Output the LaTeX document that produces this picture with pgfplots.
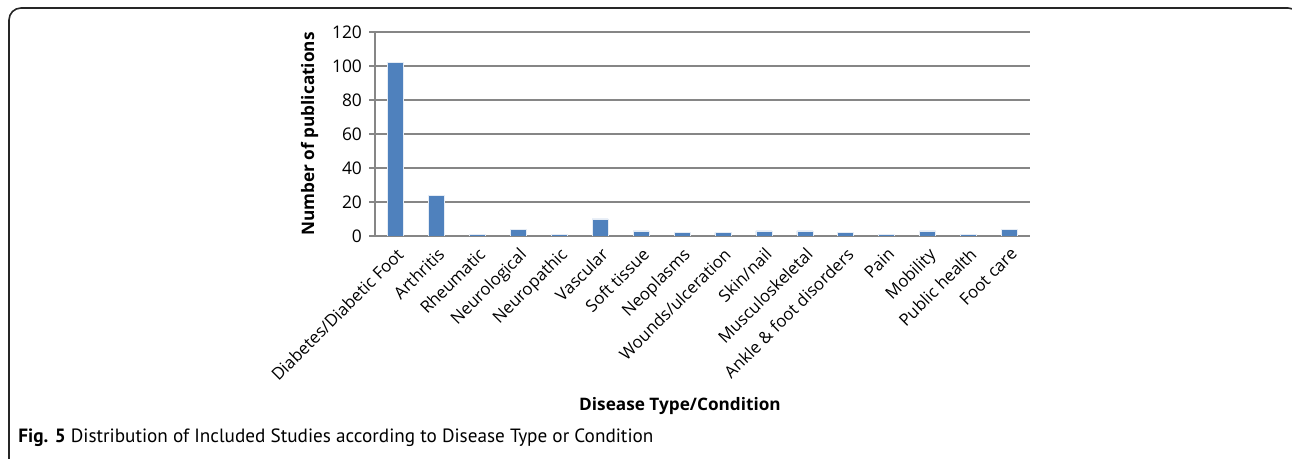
\documentclass[border=0pt]{standalone}
\usepackage{pgfplots}
\pgfplotsset{compat=1.18}
\usepackage{fontspec}
\setmainfont{Open Sans}
\newfontfamily\capfont{PT Sans}
\definecolor{barblue}{HTML}{4F81BD}
\definecolor{gridgray}{HTML}{868686}

\begin{document}
\begin{tikzpicture}
\useasboundingbox (0,0) rectangle (646pt,-229.5pt);
% figure frame (open at the bottom, right edge cut off)
\draw[line width=0.8pt, black!85, rounded corners=6pt]
  (4.5pt,-240pt) -- (4.5pt,-4pt) -- (650pt,-4pt) -- (650pt,-240pt);

\begin{axis}[
  at={(187.5pt,-118pt)}, anchor=south west,
  scale only axis, width=327.5pt, height=102pt,
  ymin=0, ymax=120, ytick={0,20,...,120},
  xmin=-0.5, xmax=15.5,
  ybar, bar width=8pt,
  axis x line*=bottom, axis y line*=left,
  axis line style={gridgray, line width=0.6pt, -},
  ymajorgrids, grid style={gridgray, line width=0.6pt},
  tick align=outside, major tick length=3pt,
  ytick style={gridgray, line width=0.6pt},
  xtick={0,...,15},
  xticklabels={Diabetes/Diabetic Foot, Arthritis, Rheumatic, Neurological,
    Neuropathic, Vascular, Soft tissue, Neoplasms, Wounds/ulceration,
    Skin/nail, Musculoskeletal, Ankle \& foot disorders, Pain, Mobility,
    Public health, Foot care},
  x tick label style={rotate=45, anchor=north east, inner sep=1.5pt,
    font=\fontsize{8.4}{9}\selectfont},
  xtick style={draw=none},
  extra x ticks={-0.5,0.5,...,15.5}, extra x tick labels={},
  extra x tick style={grid=none, tick style={draw=gridgray, line width=0.6pt}},
  y tick label style={font=\fontsize{8.7}{10}\selectfont},
  /pgf/number format/assume math mode=true,
  ylabel={Number of publications},
  ylabel style={font=\bfseries\fontsize{8.6}{9}\selectfont},
]
\addplot[fill=barblue, draw=white!85!barblue, line width=0.3pt] coordinates {
  (0,102) (1,24) (2,1) (3,4) (4,1) (5,10) (6,3) (7,2)
  (8,2) (9,3) (10,3) (11,2) (12,1) (13,3) (14,1) (15,4)};
\end{axis}

\node[font=\bfseries\fontsize{8.6}{9}\selectfont] at (340pt,-203pt) {Disease Type/Condition};
\node[anchor=base west, inner sep=0pt, font=\capfont\fontsize{9.6}{11}\selectfont]
  at (9pt,-221.5pt) {{\bfseries Fig. 5} Distribution of Included Studies according to Disease Type or Condition};
\end{tikzpicture}
\end{document}
